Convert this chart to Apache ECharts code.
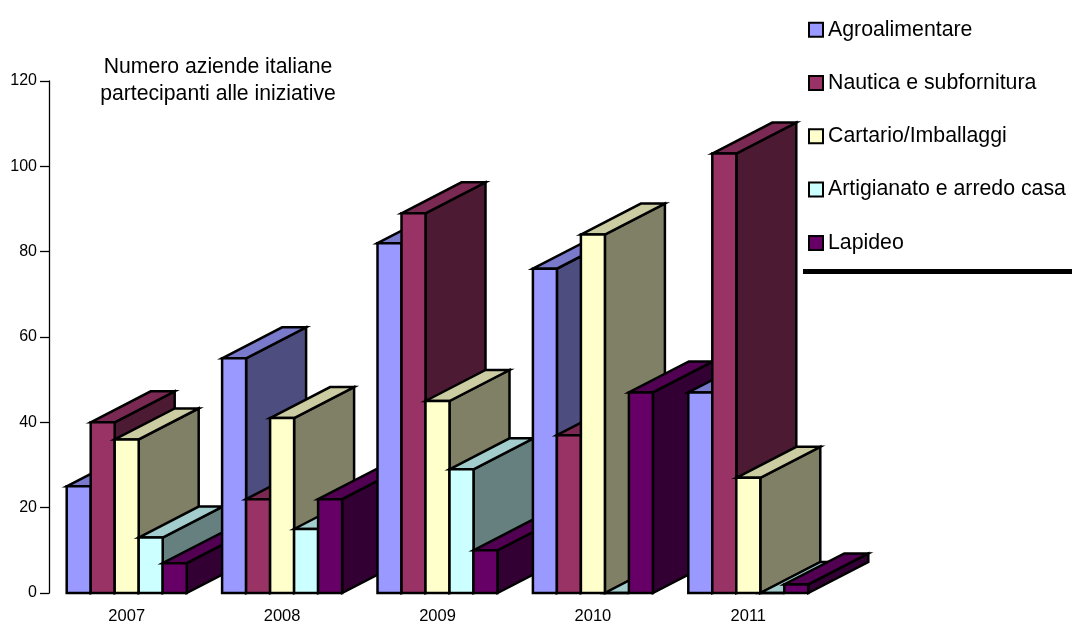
<!DOCTYPE html>
<html><head><meta charset="utf-8">
<style>html,body{margin:0;padding:0;background:#fff}#c{width:1072px;height:625px}</style>
<script src="https://cdn.jsdelivr.net/npm/echarts@6/dist/echarts.min.js"></script>
</head><body><div id="c"></div>
<script>
const years = ['2007','2008','2009','2010','2011'];
const seriesNames = ['Agroalimentare','Nautica e subfornitura','Cartario/Imballaggi','Artigianato e arredo casa','Lapideo'];
const agroalimentare = [25,55,82,76,47];
const nautica = [40,22,89,37,103];
const cartario = [36,41,45,84,27];
const artigianato = [13,15,29,0,0];
const lapideo = [7,22,10,47,2];
const seriesValues = [agroalimentare,nautica,cartario,artigianato,lapideo];
const frontColors = ['#9999FF','#993366','#FFFFCC','#CCFFFF','#660066'];
const sideColors = ['#4D4D80','#4D1A33','#808066','#668080','#330033'];
const topColors = ['#7A7ACC','#7A2952','#CCCCA3','#A3CCCC','#520052'];
const barW = 24, depthX = 60, depthY = 31;
const FONT = '"Liberation Sans", Arial, sans-serif';

function renderer(si){
  return function(params, api){
    const c = api.value(0), v = api.value(1);
    const top = api.coord([c, v]);
    const base = api.coord([c, 0]);
    const x0 = top[0] + (si - 2.5) * barW, x1 = x0 + barW;
    const yT = top[1], yB = base[1];
    const line = {stroke:'#000', lineWidth:2.5, lineJoin:'miter'};
    const z2 = c * 10 + si;
    return {type:'group', children:[
      {type:'polygon', z2:z2, shape:{points:[[x1,yT],[x1+depthX,yT-depthY],[x1+depthX,yB-depthY],[x1,yB]]},
       style:Object.assign({fill:sideColors[si]},line)},
      {type:'polygon', z2:z2, shape:{points:[[x0,yT],[x0+depthX,yT-depthY],[x1+depthX,yT-depthY],[x1,yT]]},
       style:Object.assign({fill:topColors[si]},line)},
      {type:'rect', z2:z2, shape:{x:x0,y:yT,width:barW,height:yB-yT},
       style:Object.assign({fill:frontColors[si]},line)}
    ]};
  };
}

const chart = echarts.init(document.getElementById('c'), null, {renderer:'canvas'});
chart.setOption({
  animation:false,
  backgroundColor:'#fff',
  title:{
    text:'Numero aziende italiane\npartecipanti alle iniziative',
    left:213, top:49, textAlign:'center',
    textStyle:{fontFamily:FONT,fontSize:21.2,fontWeight:'normal',color:'#000',lineHeight:27,align:'center'}
  },
  legend:{
    orient:'vertical', left:808, top:17.7, padding:0,
    icon:'rect', itemWidth:14, itemHeight:14, itemGap:29.3, selectedMode:false,
    textStyle:{fontFamily:FONT,fontSize:21.3,lineHeight:24,color:'#000',padding:[0,0,0,0]},
    data:seriesNames
  },
  grid:{left:49,top:81,width:777,height:512},
  xAxis:{type:'category',data:years,axisLine:{show:false},axisTick:{show:false},
    axisLabel:{fontFamily:FONT,fontSize:16.5,color:'#000',margin:15}},
  yAxis:{type:'value',min:0,max:120,interval:20,splitLine:{show:false},
    axisLine:{show:true,lineStyle:{color:'#000',width:1.3}},
    axisTick:{show:true,length:9,lineStyle:{color:'#000',width:1.3}},
    axisLabel:{fontFamily:FONT,fontSize:16,color:'#000',margin:12}},
  series:seriesNames.map((name,si)=>({
    type:'custom',name:name,
    renderItem:renderer(si),
    itemStyle:{color:frontColors[si],borderColor:'#000',borderWidth:2.5},
    encode:{x:0,y:1},
    data:seriesValues[si].map((v,i)=>[i,v]),
    silent:true
  })),
  graphic:[{type:'rect',shape:{x:803,y:269,width:269,height:5},style:{fill:'#000'},silent:true}]
});
</script></body></html>
